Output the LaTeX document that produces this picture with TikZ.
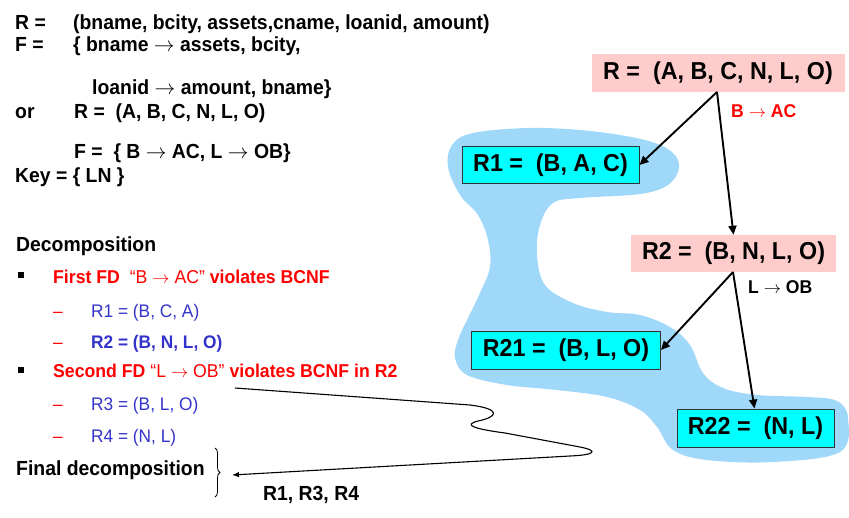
\documentclass[tikz,border=0pt]{standalone}
\usepackage{fontspec}
\setmainfont[FakeStretch=0.95]{Liberation Sans}
\usetikzlibrary{arrows.meta,decorations.pathreplacing}
\definecolor{pinkbox}{RGB}{255,204,204}
\definecolor{cyanbox}{RGB}{0,255,255}
\definecolor{blobblue}{RGB}{160,216,250}
\definecolor{txtblue}{RGB}{51,51,204}
\definecolor{txtred}{RGB}{255,0,0}
\newcommand{\rarr}{$\rightarrow$}
\begin{document}
\begin{tikzpicture}[x=1pt,y=-1pt,
  lt/.style={anchor=base west, inner sep=0pt, font=\fontsize{20.4}{24}\selectfont\bfseries},
  bt/.style={anchor=base west, inner sep=0pt, font=\fontsize{18.6}{22}\selectfont\bfseries},
  st/.style={anchor=base west, inner sep=0pt, font=\fontsize{18.2}{22}\selectfont},
  relbox/.style={inner sep=0pt, font=\fontsize{24.5}{28}\selectfont\bfseries},
  pinkrel/.style={relbox, fill=pinkbox},
  cyanrel/.style={relbox, fill=cyanbox, draw=black!80, line width=0.9pt},
  fdlabel/.style={anchor=base west, inner sep=0pt, font=\fontsize{18.5}{21}\selectfont\bfseries},
  treearrow/.style={line width=1.9pt, -{Triangle[length=9pt,width=8pt]}},
  bulletsq/.style={fill=black, minimum size=6pt, inner sep=0pt},
]
\useasboundingbox (0,0) rectangle (849,517);
% blob
\fill[blobblue] plot[smooth cycle, tension=0.6] coordinates {
 (473,133) (530,128) (590,131) (645,140) (672,152) (679,168) (668,185) (640,194)
 (580,198) (553,203) (540,225) (537,255) (545,285) (573,303) (607,312) (640,315)
 (670,327) (690,345) (703,373) (723,388) (757,395) (807,397) (837,401) (848,418)
 (840,452) (773,462) (707,460) (673,450) (657,427) (640,410) (607,397) (557,390)
 (507,385) (467,375) (455,358) (458,340) (467,320) (480,293) (490,267) (488,240)
 (478,215) (460,195) (448,167) (452,145)};
% left text
\node[lt] (tR) at (15,29.5) {R =};
\node[lt] (tRv) at (73,29.5) {(bname, bcity, assets,cname, loanid, amount)};
\node[lt] (tF) at (15,51) {F =};
\node[lt] (tFv) at (73,51) {\{ bname \rarr\ assets, bcity,};
\node[lt] (tFv2) at (92,94) {loanid \rarr\ amount, bname\}};
\node[lt] (tor) at (15,118) {or};
\node[lt] (tR2) at (74,118) {R =\ \ (A, B, C, N, L, O)};
\node[lt] (tF2) at (74,158) {F =\ \ \{ B \rarr\ AC, L \rarr\ OB\}};
\node[lt] (tKey) at (15,182) {Key = \{ LN \}};
\node[lt] (tDec) at (16,251) {Decomposition};
\node[bulletsq] (b1) at (21,275) {};
\node[bt, text=txtred] (tFirst) at (53,283) {First FD\ \ \textmd{“B \rarr\ AC”} violates BCNF};
\node[st, text=txtred] (d1) at (53,317) {–};
\node[st, text=txtblue] (tR1) at (91,317) {R1 = (B, C, A)};
\node[st, text=txtred] (d2) at (53,348) {–};
\node[st, text=txtblue, font=\fontsize{18.2}{22}\selectfont\bfseries] (tR2b) at (91,348) {R2 = (B, N, L, O)};
\node[bulletsq] (b2) at (21,370) {};
\node[bt, text=txtred] (tSecond) at (53,377) {Second FD \textmd{“L \rarr\ OB”} violates BCNF in R2};
\node[st, text=txtred] (d3) at (53,410) {–};
\node[st, text=txtblue] (tR3) at (91,410) {R3 = (B, L, O)};
\node[st, text=txtred] (d4) at (53,442) {–};
\node[st, text=txtblue] (tR4) at (91,442) {R4 = (N, L)};
\node[lt] (tFinal) at (16,475) {Final decomposition};
\node[lt] (tList) at (263,500) {R1, R3, R4};
\draw[line width=0.8pt, decorate, decoration={brace, amplitude=5pt}] (215,448) -- (215,497);
% squiggle connector
\coordinate (sqA) at (235,388);
\coordinate (sqB) at (232,475);
\draw[line width=1.1pt, -{Latex[length=7pt,width=5.5pt]}] (sqA) -- (470,405)
  .. controls (502,409) and (498,417) .. (478,421)
  .. controls (462,425) and (475,429) .. (505,433)
  -- (580,447) .. controls (600,451) and (594,455) .. (570,456) -- (sqB);
% tree nodes
\node[pinkrel, minimum width=253pt, minimum height=38pt] (R) at (718,73) {R =\ \ (A, B, C, N, L, O)};
\node[cyanrel, minimum width=177pt, minimum height=37pt] (R1) at (550.5,165) {R1 =\ \ (B, A, C)};
\node[pinkrel, minimum width=205pt, minimum height=37pt] (R2) at (733.5,253.5) {R2 =\ \ (B, N, L, O)};
\node[cyanrel, minimum width=189pt, minimum height=38pt] (R21) at (566,350) {R21 =\ \ (B, L, O)};
\node[cyanrel, minimum width=157pt, minimum height=38pt] (R22) at (755.5,428) {R22 =\ \ (N, L)};
\node[fdlabel, text=txtred] (fd1) at (731,117) {B \rarr\ AC};
\node[fdlabel] (fd2) at (748,293) {L \rarr\ OB};
\coordinate (Rb) at (717,92);
\coordinate (R2b) at (733,272);
\draw[treearrow] (Rb) -- (R1.east);
\draw[treearrow] (Rb) -- (R2.north);
\draw[treearrow] (R2b) -- (R21.east);
\draw[treearrow] (R2b) -- ([xshift=-1pt]R22.north);
\end{tikzpicture}
\end{document}
